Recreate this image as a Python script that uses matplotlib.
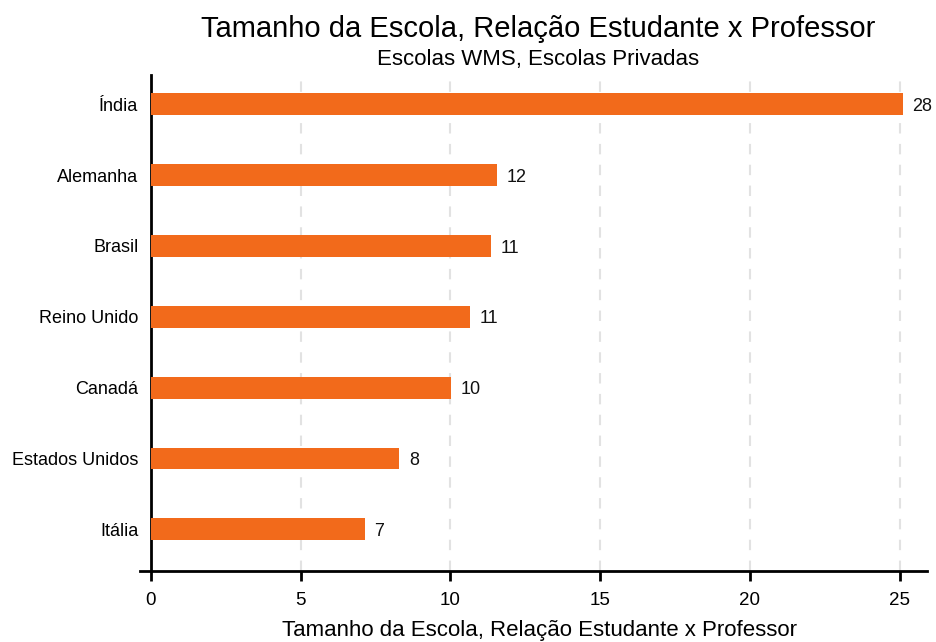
import matplotlib.pyplot as plt
import numpy as np

plt.rcParams['font.family'] = ['Liberation Sans', 'DejaVu Sans']

# Data (bottom to top)
countries = ['Itália', 'Estados Unidos', 'Canadá', 'Reino Unido', 'Brasil', 'Alemanha', 'Índia']
values = [7.14, 8.28, 10.01, 10.65, 11.35, 11.55, 25.1]
labels = ['7', '8', '10', '11', '11', '12', '28']

orange = '#F26A1B'

fig, ax = plt.subplots(figsize=(9.36, 6.42), dpi=100)
fig.subplots_adjust(left=0.150, right=0.990, top=0.883, bottom=0.110)

y = np.arange(len(countries))
ax.barh(y, values, height=0.31, color=orange, zorder=3)

# value labels at bar ends
for yi, v, lab in zip(y, values, labels):
    ax.text(v + 0.33, yi - 0.03, lab, va='center', ha='left', fontsize=13, color='#111111')

ax.set_yticks(y)
ax.set_yticklabels(countries)
ax.tick_params(axis='y', length=0, pad=9, labelsize=13)

ax.set_xticks([0, 5, 10, 15, 20, 25])
ax.tick_params(axis='x', length=7, width=2, labelsize=13.5, pad=8)

ax.set_xlim(-0.35, 25.9)
ax.set_ylim(-0.593, 6.41)

# light dashed gridlines
for gx in [5, 10, 15, 20, 25]:
    ax.axvline(gx, color='#e2e2e2', linestyle=(0, (5, 5)), linewidth=1.5, zorder=1)

for s in ['top', 'right']:
    ax.spines[s].set_visible(False)
ax.spines['left'].set_position(('data', 0))
ax.spines['left'].set_linewidth(2)
ax.spines['bottom'].set_linewidth(2)

ax.set_xlabel('Tamanho da Escola, Relação Estudante x Professor', fontsize=16)
ax.xaxis.set_label_coords(0.508, -0.097)

fig.text(0.575, 0.955, 'Tamanho da Escola, Relação Estudante x Professor',
         ha='center', va='center', fontsize=21)
fig.text(0.575, 0.908, 'Escolas WMS, Escolas Privadas', ha='center', va='center', fontsize=16)

fig.savefig('out.png', dpi=100)
